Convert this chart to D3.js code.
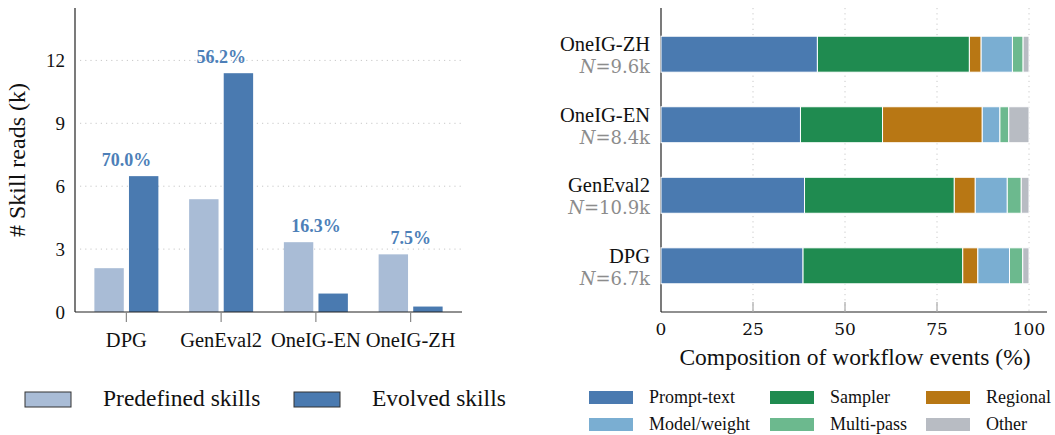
<!DOCTYPE html>
<html>
<head>
<meta charset="utf-8">
<script src="https://cdn.jsdelivr.net/npm/d3@7"></script>
<style>
  body { margin:0; background:#fff; }
  svg text { font-family:"Liberation Serif", "Times New Roman", serif; }
  svg text.cm { font-family:"DejaVu Serif", serif; }
</style>
</head>
<body>
<div id="chart"></div>
<script>
// left panel: skill reads
const benchmarks = ['DPG','GenEval2','OneIG-EN','OneIG-ZH'];
const predefined = [2.09, 5.38, 3.33, 2.75];
const evolved = [6.48, 11.39, 0.88, 0.26];
const pctLabels = ['70.0%','56.2%','16.3%','7.5%'];
const yTicks = [0,3,6,9,12];

// right panel: workflow composition
const compCats = ['OneIG-ZH','OneIG-EN','GenEval2','DPG'];
const compN = ['9.6k','8.4k','10.9k','6.7k'];
const eventTypes = ['Prompt-text','Sampler','Regional','Model/weight','Multi-pass','Other'];
const promptText = [42.5, 37.9, 39.0, 38.6];
const sampler    = [41.3, 22.3, 40.7, 43.4];
const regional   = [3.2, 27.1, 5.7, 4.1];
const modelWeight= [8.5, 4.8, 8.7, 8.6];
const multiPass  = [2.9, 2.4, 3.8, 3.6];
const other      = [1.6, 5.5, 2.1, 1.7];
const xTicks = [0,25,50,75,100];

const colors = ['#4a7ab0','#1f8b50','#b87714','#7aaed2','#6cb98e','#b8bcc3'];
const lightBlue = '#a9bcd6', darkBlue = '#4a7ab0';

const W = 1055, H = 435;
const svg = d3.select('#chart').append('svg').attr('width',W).attr('height',H);

// ---------- left chart ----------
const L = {x0:75, x1:462, y0:8, y1:312};
const x0 = d3.scaleBand().domain(benchmarks).range([L.x0+4, L.x1-4]);
const xs = d3.scaleBand().domain(['p','e']).range([0, 64]).paddingInner(0.15);
const yL = d3.scaleLinear().domain([0,14.5]).range([L.y1, L.y0]);

const gl = svg.append('g');
gl.selectAll('.grid').data(yTicks.filter(d=>d>0)).enter().append('line')
  .attr('x1',L.x0+5).attr('x2',L.x1).attr('y1',d=>yL(d)).attr('y2',d=>yL(d))
  .attr('stroke','#c8c8c8').attr('stroke-width',1).attr('stroke-dasharray','1.2,4');

const groups = gl.selectAll('.grp').data(benchmarks).enter().append('g')
  .attr('transform', d=>`translate(${x0(d)+x0.bandwidth()/2-32},0)`);
groups.append('rect').attr('x',xs('p')).attr('width',xs.bandwidth())
  .attr('y',(d,i)=>yL(predefined[i])).attr('height',(d,i)=>yL(0)-yL(predefined[i])).attr('fill',lightBlue);
groups.append('rect').attr('x',xs('e')).attr('width',xs.bandwidth())
  .attr('y',(d,i)=>yL(evolved[i])).attr('height',(d,i)=>yL(0)-yL(evolved[i])).attr('fill',darkBlue);

gl.selectAll('.pct').data(benchmarks).enter().append('text')
  .attr('x',d=>x0(d)+x0.bandwidth()/2)
  .attr('y',(d,i)=>yL(Math.max(predefined[i],evolved[i]))-10)
  .attr('text-anchor','middle').attr('font-size',18).attr('font-weight','bold')
  .attr('fill','#4d7fb8').text((d,i)=>pctLabels[i]);

// axes
gl.append('line').attr('x1',L.x0).attr('x2',L.x0).attr('y1',L.y0).attr('y2',L.y1).attr('stroke','#222').attr('stroke-width',1.2);
gl.append('line').attr('x1',L.x0).attr('x2',L.x1).attr('y1',L.y1).attr('y2',L.y1).attr('stroke','#222').attr('stroke-width',1.2);
gl.selectAll('.xt').data(benchmarks).enter().append('line')
  .attr('x1',d=>x0(d)+x0.bandwidth()/2).attr('x2',d=>x0(d)+x0.bandwidth()/2)
  .attr('y1',L.y1).attr('y2',L.y1+10).attr('stroke','#888').attr('stroke-width',1.2);
gl.selectAll('.xl').data(benchmarks).enter().append('text')
  .attr('x',d=>x0(d)+x0.bandwidth()/2).attr('y',L.y1+35)
  .attr('text-anchor','middle').attr('font-size',20.5).attr('fill','#111').text(d=>d);
gl.selectAll('.yl').data(yTicks).enter().append('text')
  .attr('x',L.x0-10).attr('y',d=>yL(d)).attr('dy','0.35em')
  .attr('text-anchor','end').attr('font-size',19).attr('fill','#111').text(d=>d);
gl.append('text').attr('transform',`translate(25,${(L.y0+L.y1)/2}) rotate(-90)`)
  .attr('text-anchor','middle').attr('font-size',24).attr('fill','#111').text('# Skill reads (k)');

// left legend
const legL = [{k:'Predefined skills',c:lightBlue,x:25},{k:'Evolved skills',c:darkBlue,x:294}];
const lg = gl.selectAll('.lg').data(legL).enter().append('g').attr('transform',d=>`translate(${d.x},392)`);
lg.append('rect').attr('width',46).attr('height',15).attr('fill',d=>d.c).attr('stroke','#333').attr('stroke-width',1);
lg.append('text').attr('x',78).attr('y',14).attr('font-size',23.5).attr('fill','#111').text(d=>d.k);

// ---------- right chart ----------
const R = {x0:661, x1:1047, y0:8, y1:312};
const xR = d3.scaleLinear().domain([0,100]).range([R.x0, 1029]);
const yR = d3.scaleBand().domain(compCats).range([R.y0,R.y1]).paddingInner(0.49).paddingOuter(0.4);

const gr = svg.append('g');
gr.selectAll('.vg').data(xTicks.filter(d=>d>0)).enter().append('line')
  .attr('x1',d=>xR(d)).attr('x2',d=>xR(d)).attr('y1',R.y0).attr('y2',R.y1)
  .attr('stroke','#c8c8c8').attr('stroke-width',1).attr('stroke-dasharray','1.2,4');
gr.append('line').attr('x1',R.x0).attr('x2',R.x0).attr('y1',R.y0).attr('y2',R.y1).attr('stroke','#222').attr('stroke-width',1.2);

const series = [promptText, sampler, regional, modelWeight, multiPass, other];
const rows = compCats.map((c,i)=>{ const o={cat:c}; eventTypes.forEach((t,j)=>o[t]=series[j][i]); return o; });
const stacked = d3.stack().keys(eventTypes)(rows);
gr.selectAll('.ser').data(stacked).enter().append('g').attr('fill',(d,i)=>colors[i])
  .selectAll('rect').data(d=>d).enter().append('rect')
  .attr('x',d=>xR(d[0])).attr('width',d=>xR(d[1])-xR(d[0]))
  .attr('y',d=>yR(d.data.cat)).attr('height',yR.bandwidth())
  .attr('stroke','#fff').attr('stroke-width',1);

gr.append('line').attr('x1',R.x0).attr('x2',R.x1).attr('y1',R.y1).attr('y2',R.y1).attr('stroke','#222').attr('stroke-width',1.2);
gr.selectAll('.xtk').data(xTicks.slice(1,4)).enter().append('line')
  .attr('x1',d=>xR(d)).attr('x2',d=>xR(d)).attr('y1',R.y1).attr('y2',R.y1-10).attr('stroke','#aaa').attr('stroke-width',1.2);
gr.selectAll('.xtl').data(xTicks).enter().append('text').attr('class','cm')
  .attr('x',d=>xR(d)).attr('y',R.y1+23).attr('text-anchor','middle').attr('font-size',17).attr('fill','#111').text(d=>d);
gr.append('text').attr('x',(R.x0+R.x1)/2+1).attr('y',R.y1+53).attr('text-anchor','middle')
  .attr('font-size',23.5).attr('fill','#111').text('Composition of workflow events (%)');

gr.selectAll('.cl').data(compCats).enter().append('text')
  .attr('x',650).attr('y',d=>yR(d)+yR.bandwidth()/2-3).attr('text-anchor','end')
  .attr('font-size',20.5).attr('fill','#111').text(d=>d);
const nl = gr.selectAll('.nl').data(compCats).enter().append('text').attr('class','cm')
  .attr('x',650).attr('y',d=>yR(d)+yR.bandwidth()/2+19).attr('text-anchor','end')
  .attr('font-size',18).attr('fill','#8c8c8c');
nl.append('tspan').attr('font-style','italic').text('N');
nl.append('tspan').text((d,i)=>'=' + compN[i]);

// right legend
const legCols = [589, 770, 926];
const lr = gr.selectAll('.lr').data(eventTypes).enter().append('g')
  .attr('transform',(d,i)=>`translate(${legCols[i%3]},${i<3?391:418})`);
lr.append('rect').attr('width',44).attr('height',13).attr('fill',(d,i)=>colors[i]);
lr.append('text').attr('x',60).attr('y',12).attr('font-size',18).attr('fill','#111').text(d=>d);
</script>
</body>
</html>
